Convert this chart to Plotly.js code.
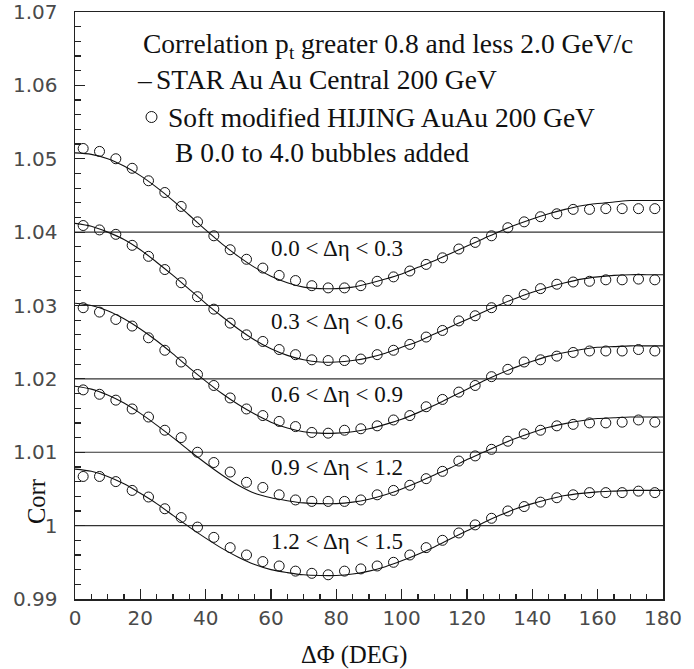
<!DOCTYPE html>
<html>
<head>
<meta charset="utf-8">
<script src="https://cdn.plot.ly/plotly-3.0.1.min.js"></script>
<style>
  html, body { margin: 0; padding: 0; background: #fff; }
  #chart { width: 694px; height: 669px; }
</style>
</head>
<body>
<div id="chart"></div>
<script>
// ΔΦ grid of the STAR curves (deg)
const phiLine = [0,5,10,15,20,25,30,35,40,45,50,55,60,65,70,75,80,85,90,
                 95,100,105,110,115,120,125,130,135,140,145,150,155,160,165,170,175,180];
// ΔΦ bin centres of the HIJING points (deg)
const phiPts = [2.5,7.5,12.5,17.5,22.5,27.5,32.5,37.5,42.5,47.5,52.5,57.5,
                62.5,67.5,72.5,77.5,82.5,87.5,92.5,97.5,102.5,107.5,112.5,117.5,
                122.5,127.5,132.5,137.5,142.5,147.5,152.5,157.5,162.5,167.5,172.5,177.5];

// Δη bin labels, top to bottom
const etaBins = ["0.0 &lt; Δη &lt; 0.3", "0.3 &lt; Δη &lt; 0.6", "0.6 &lt; Δη &lt; 0.9",
                 "0.9 &lt; Δη &lt; 1.2", "1.2 &lt; Δη &lt; 1.5"];
// Level of the baseline under each Δη bin
const refLevels = [1.04, 1.03, 1.02, 1.01, 1.00];

// STAR Au Au central 200 GeV correlation, one array per Δη bin
const star1 = [1.0508,1.0506,1.0500,1.0490,1.0477,1.0461,1.0443,1.0423,1.0403,1.0384,1.0367,1.0352,
               1.0340,1.0331,1.0325,1.0323,1.0323,1.0325,1.0330,1.0336,1.0343,1.0352,1.0361,1.0371,
               1.0381,1.0391,1.0401,1.0410,1.0418,1.0425,1.0431,1.0436,1.0439,1.0441,1.0443,1.0443,1.0443];
const star2 = [1.0412,1.0408,1.0400,1.0390,1.0376,1.0359,1.0341,1.0322,1.0303,1.0285,1.0268,1.0253,
               1.0241,1.0232,1.0226,1.0223,1.0223,1.0225,1.0229,1.0235,1.0243,1.0251,1.0261,1.0271,
               1.0281,1.0291,1.0301,1.0310,1.0318,1.0325,1.0331,1.0336,1.0339,1.0341,1.0342,1.0342,1.0342];
const star3 = [1.0303,1.0300,1.0293,1.0282,1.0268,1.0252,1.0234,1.0215,1.0197,1.0180,1.0165,1.0152,
               1.0141,1.0133,1.0128,1.0126,1.0126,1.0128,1.0132,1.0138,1.0145,1.0154,1.0164,1.0175,
               1.0186,1.0197,1.0207,1.0216,1.0224,1.0231,1.0236,1.0240,1.0243,1.0244,1.0245,1.0245,1.0245];
const star4 = [1.0190,1.0186,1.0178,1.0167,1.0153,1.0137,1.0120,1.0102,1.0085,1.0069,1.0055,1.0044,
               1.0038,1.0034,1.0031,1.0030,1.0030,1.0032,1.0036,1.0042,1.0050,1.0059,1.0069,1.0079,
               1.0090,1.0100,1.0110,1.0119,1.0127,1.0134,1.0139,1.0143,1.0146,1.0147,1.0148,1.0148,1.0148];
const star5 = [1.0077,1.0074,1.0067,1.0057,1.0044,1.0030,1.0014,0.9998,0.9983,0.9969,0.9957,0.9947,
               0.9940,0.9936,0.9933,0.9932,0.9932,0.9934,0.9938,0.9944,0.9952,0.9961,0.9971,0.9982,
               0.9993,1.0004,1.0014,1.0023,1.0030,1.0036,1.0041,1.0044,1.0046,1.0047,1.0048,1.0048,1.0048];

// Soft modified HIJING Au Au 200 GeV with bubbles, one array per Δη bin
const hijing1 = [1.0514,1.0510,1.0500,1.0487,1.0470,1.0454,1.0435,1.0414,1.0395,1.0376,1.0363,1.0351,
                 1.0341,1.0334,1.0327,1.0324,1.0324,1.0327,1.0333,1.0339,1.0347,1.0356,1.0365,1.0377,
                 1.0386,1.0395,1.0406,1.0414,1.0421,1.0425,1.0431,1.0431,1.0432,1.0432,1.0432,1.0432];
const hijing2 = [1.0409,1.0403,1.0397,1.0382,1.0367,1.0349,1.0331,1.0312,1.0295,1.0276,1.0260,1.0251,
                 1.0240,1.0233,1.0226,1.0225,1.0225,1.0227,1.0233,1.0239,1.0247,1.0257,1.0266,1.0279,
                 1.0286,1.0297,1.0307,1.0315,1.0323,1.0329,1.0332,1.0333,1.0335,1.0335,1.0336,1.0335];
const hijing3 = [1.0297,1.0291,1.0281,1.0272,1.0256,1.0239,1.0223,1.0206,1.0191,1.0174,1.0159,1.0150,
                 1.0142,1.0135,1.0127,1.0126,1.0130,1.0132,1.0136,1.0144,1.0150,1.0162,1.0172,1.0182,
                 1.0191,1.0203,1.0213,1.0223,1.0226,1.0231,1.0236,1.0238,1.0238,1.0238,1.0240,1.0238];
const hijing4 = [1.0185,1.0179,1.0171,1.0159,1.0148,1.0130,1.0120,1.0100,1.0086,1.0073,1.0059,1.0052,
                 1.0042,1.0035,1.0033,1.0033,1.0033,1.0035,1.0042,1.0048,1.0055,1.0064,1.0074,1.0088,
                 1.0095,1.0104,1.0115,1.0125,1.0130,1.0136,1.0138,1.0140,1.0140,1.0141,1.0144,1.0141];
const hijing5 = [1.0067,1.0067,1.0060,1.0048,1.0039,1.0023,1.0011,0.9998,0.9984,0.9970,0.9960,0.9951,
                 0.9945,0.9938,0.9935,0.9933,0.9938,0.9941,0.9945,0.9950,0.9960,0.9970,0.9980,0.9990,
                 1.0001,1.0010,1.0020,1.0026,1.0032,1.0038,1.0042,1.0045,1.0045,1.0045,1.0047,1.0045];

const starSets = [star1, star2, star3, star4, star5];
const hijingSets = [hijing1, hijing2, hijing3, hijing4, hijing5];

// Plot frame in pixels (used to place the text blocks)
const W = 694, H = 669;
const M = { l: 75, r: 31, t: 12, b: 70 };
const plotW = W - M.l - M.r, plotH = H - M.t - M.b;
const px = x => (x - M.l) / plotW;
const py = y => (H - M.b - y) / plotH;

const serif = "Liberation Serif, Times New Roman, serif";
const ink = "#111";

const traces = [];
starSets.forEach(s => {
  traces.push({
    type: "scatter", mode: "lines", x: phiLine, y: s,
    line: { color: ink, width: 1.1, shape: "spline", smoothing: 0.8 },
    showlegend: false, hoverinfo: "skip"
  });
});
hijingSets.forEach(h => {
  traces.push({
    type: "scatter", mode: "markers", x: phiPts, y: h,
    marker: { symbol: "circle-open", size: 10, color: ink, line: { color: ink, width: 1 } },
    showlegend: false, hoverinfo: "skip"
  });
});

// Baselines under each Δη bin
const shapes = refLevels.map(v => ({
  type: "line", xref: "paper", yref: "y", x0: 0, x1: 1, y0: v, y1: v,
  line: { color: "#333", width: 1.1 }, layer: "below"
}));
// open-circle key for the HIJING line of the header
shapes.push({
  type: "circle", xref: "paper", yref: "paper",
  xsizemode: "pixel", ysizemode: "pixel",
  xanchor: px(151.5), yanchor: py(117),
  x0: -5.5, x1: 5.5, y0: -5.5, y1: 5.5,
  line: { color: ink, width: 1 }
});

const headFont = { family: serif, size: 27.5, color: ink };
const bandFont = { family: serif, size: 23, color: ink };
const annotations = [
  { text: "Correlation p<sub>t</sub> greater 0.8 and less 2.0 GeV/c", x: px(141), y: py(45) },
  { text: "–", x: px(135), y: py(80) },
  { text: "STAR Au Au Central 200 GeV", x: px(154), y: py(80) },
  { text: "Soft modified HIJING AuAu 200 GeV", x: px(166), y: py(117) },
  { text: "B 0.0 to 4.0 bubbles added", x: px(173), y: py(153) }
].map(a => Object.assign({
  xref: "paper", yref: "paper", xanchor: "left", yanchor: "middle",
  showarrow: false, font: headFont
}, a));

etaBins.forEach((label, i) => {
  annotations.push({
    text: label, xref: "paper", yref: "paper",
    x: px(269), y: py(248 + i * 73.33),
    xanchor: "left", yanchor: "middle", showarrow: false, font: bandFont
  });
});

// axis titles
annotations.push({
  text: "ΔΦ (DEG)", xref: "paper", yref: "paper", x: px(353.5), y: py(655),
  xanchor: "center", yanchor: "middle", showarrow: false,
  font: { family: serif, size: 24.5, color: ink }
});
annotations.push({
  text: "Corr", xref: "paper", yref: "paper", x: px(36), y: py(502),
  xanchor: "center", yanchor: "middle", showarrow: false, textangle: -90,
  font: { family: serif, size: 24.5, color: ink }
});

const tickFont = { family: "DejaVu Sans, sans-serif", size: 20, color: "#4a4a4a" };
const axisCommon = {
  showgrid: false, zeroline: false, showline: true, mirror: true,
  linecolor: "#222", linewidth: 1.5,
  ticks: "inside", ticklen: 10, tickwidth: 1.2, tickcolor: "#222",
  tickfont: tickFont
};

const layout = {
  width: W, height: H,
  margin: M,
  paper_bgcolor: "#fff", plot_bgcolor: "#fff",
  showlegend: false,
  xaxis: Object.assign({}, axisCommon, {
    range: [0, 180], tick0: 0, dtick: 20,
    minor: { ticks: "inside", tick0: 0, dtick: 5, ticklen: 5, tickwidth: 1.2, tickcolor: "#222" },
    ticklabelstandoff: 0
  }),
  yaxis: Object.assign({}, axisCommon, {
    range: [0.99, 1.07], tick0: 0.99, dtick: 0.01, tickformat: ".2~f",
    minor: { ticks: "inside", tick0: 0.99, dtick: 0.002, ticklen: 6, tickwidth: 1.2, tickcolor: "#222" },
    ticklabelstandoff: 12
  }),
  shapes: shapes,
  annotations: annotations
};

Plotly.newPlot("chart", traces, layout, { staticPlot: true, displayModeBar: false });
</script>
</body>
</html>
